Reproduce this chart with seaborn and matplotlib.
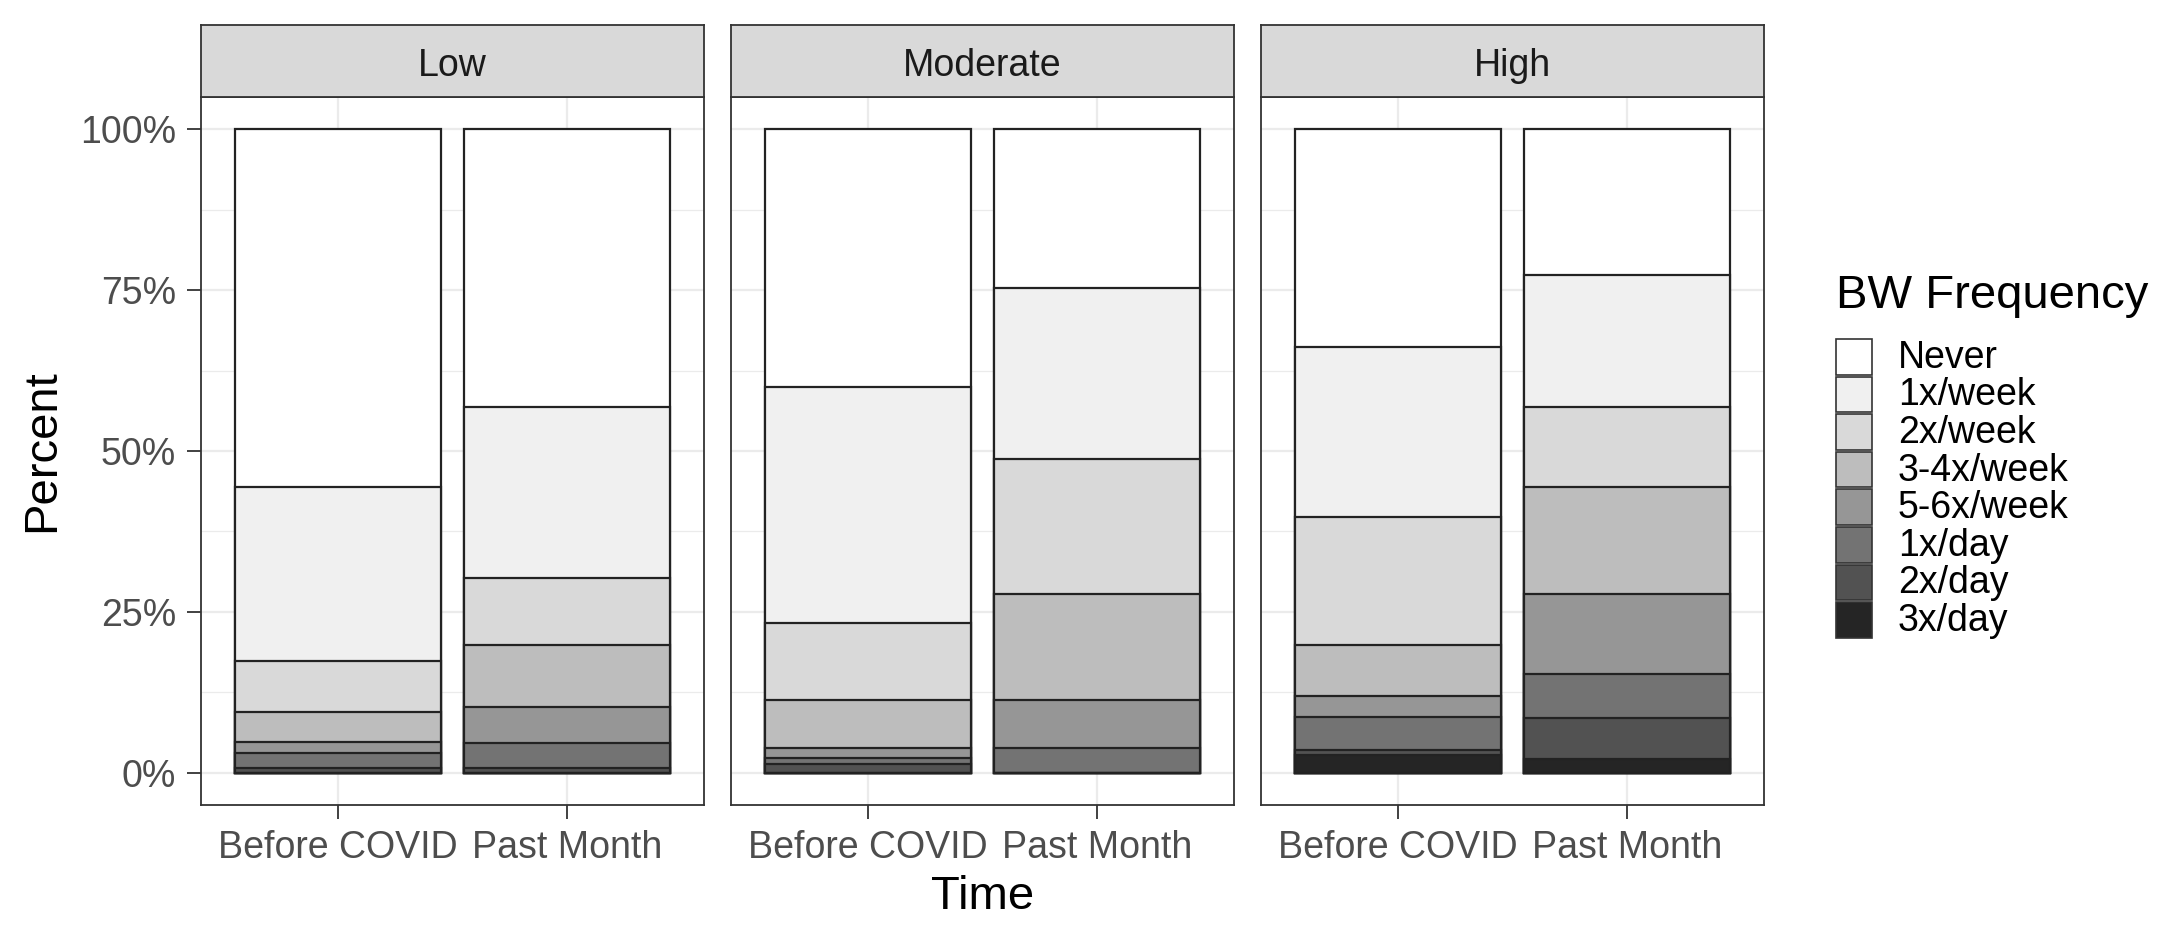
import numpy as np
import pandas as pd
import matplotlib
matplotlib.use("Agg")
import matplotlib.pyplot as plt
from matplotlib.patches import Rectangle
import seaborn as sns

# data (percent of each bar, Never first)
groups = ["Low", "Moderate", "High"]
times = ["Before COVID", "Past Month"]
levels = ["Never", "1x/week", "2x/week", "3-4x/week", "5-6x/week", "1x/day", "2x/day", "3x/day"]
greys = ["#FFFFFF", "#F0F0F0", "#D9D9D9", "#BDBDBD", "#969696", "#737373", "#525252", "#252525"]

low_before = [55.6, 27.0, 7.9, 4.7, 1.7, 2.3, 0.8, 0.0]
low_past = [43.1, 26.7, 10.4, 9.6, 5.5, 3.9, 0.8, 0.0]
mod_before = [40.1, 36.6, 12.0, 7.5, 1.5, 0.9, 1.4, 0.0]
mod_past = [24.7, 26.5, 21.0, 16.5, 7.5, 3.8, 0.0, 0.0]
high_before = [33.8, 26.4, 20.0, 7.9, 3.3, 5.1, 0.8, 2.7]
high_past = [22.6, 20.5, 12.5, 16.6, 12.5, 6.8, 6.4, 2.1]

y_ticks = [0, 25, 50, 75, 100]
y_labels = ["0%", "25%", "50%", "75%", "100%"]

series = {
    ("Low", "Before COVID"): low_before,
    ("Low", "Past Month"): low_past,
    ("Moderate", "Before COVID"): mod_before,
    ("Moderate", "Past Month"): mod_past,
    ("High", "Before COVID"): high_before,
    ("High", "Past Month"): high_past,
}

rows = []
for (g, t), vals in series.items():
    # stack from the bottom (3x/day) up to Never
    cum = np.cumsum(vals[::-1])[::-1]
    for lv, v, c in zip(levels, vals, cum):
        rows.append({"group": g, "time": t, "level": lv, "pct": v, "cum": c})
df = pd.DataFrame(rows)

sns.set_style("white")
plt.rcParams["font.family"] = ["Liberation Sans", "DejaVu Sans"]

W, H = 2176, 932
fig = plt.figure(figsize=(W / 100, H / 100), dpi=100)

pal = dict(zip(levels, greys))
left0, pw, gap = 201, 503, 27
top_px, bot_px, strip_h = 97, 805, 72

for i, g in enumerate(groups):
    x0 = left0 + i * (pw + gap)
    ax = fig.add_axes([x0 / W, 1 - bot_px / H, pw / W, (bot_px - top_px) / H])
    sub = df[df["group"] == g]
    for lv in levels:
        d = sub[sub["level"] == lv]
        sns.barplot(data=d, x="time", y="cum", order=times, color=pal[lv],
                    saturation=1, width=0.9, edgecolor="#222222", linewidth=1.6,
                    errorbar=None, ax=ax)
    ax.set_xlim(-0.6, 1.6)
    ax.set_ylim(-5, 105)
    ax.set_yticks(y_ticks)
    ax.set_yticks([12.5, 37.5, 62.5, 87.5], minor=True)
    ax.set_axisbelow(True)
    ax.grid(which="major", color="#EBEBEB", linewidth=1.6)
    ax.grid(which="minor", axis="y", color="#EBEBEB", linewidth=0.9)
    for s in ax.spines.values():
        s.set_visible(True)
        s.set_color("#333333")
        s.set_linewidth(1.3)
    ax.tick_params(axis="x", length=10, width=1.3, color="#333333", pad=8,
                   labelsize=27, labelcolor="#4D4D4D", bottom=True)
    ax.tick_params(axis="y", which="major", length=10, width=1.3, color="#333333",
                   pad=8, labelsize=27, labelcolor="#4D4D4D", left=True)
    ax.tick_params(axis="y", which="minor", length=0)
    ax.set_xlabel("")
    ax.set_ylabel("")
    if i == 0:
        ax.set_yticklabels(y_labels)
    else:
        ax.tick_params(axis="y", left=False, labelleft=False)

    # facet strip
    sax = fig.add_axes([x0 / W, 1 - top_px / H, pw / W, strip_h / H])
    sax.set_facecolor("#D9D9D9")
    sax.set_xticks([])
    sax.set_yticks([])
    for s in sax.spines.values():
        s.set_color("#333333")
        s.set_linewidth(1.3)
    sax.text(0.5, 0.43, g, ha="center", va="center", fontsize=27, color="#1A1A1A",
             transform=sax.transAxes)

fig.text(42 / W, 1 - 451 / H, "Percent", rotation=90, ha="center", va="center",
         fontsize=34, color="black")
fig.text((left0 + 1.5 * pw + gap) / W, 1 - 897 / H, "Time", ha="center", va="center",
         fontsize=34, color="black")

# legend
lax = fig.add_axes([0, 0, 1, 1], facecolor="none")
lax.set_xlim(0, W)
lax.set_ylim(H, 0)
lax.axis("off")
lax.text(1836, 296, "BW Frequency", ha="left", va="center", fontsize=34, color="black")
key_top, key_h, key_w = 338, 37.6, 36
for k, lv in enumerate(levels):
    yk = key_top + k * key_h
    lax.add_patch(Rectangle((1836, yk + 1), key_w, key_h - 2, facecolor=pal[lv],
                            edgecolor="#333333", linewidth=1.2))
    lax.text(1898, yk + key_h / 2 + 1, lv, ha="left", va="center", fontsize=27, color="black")

fig.savefig("out.png", dpi=100)
